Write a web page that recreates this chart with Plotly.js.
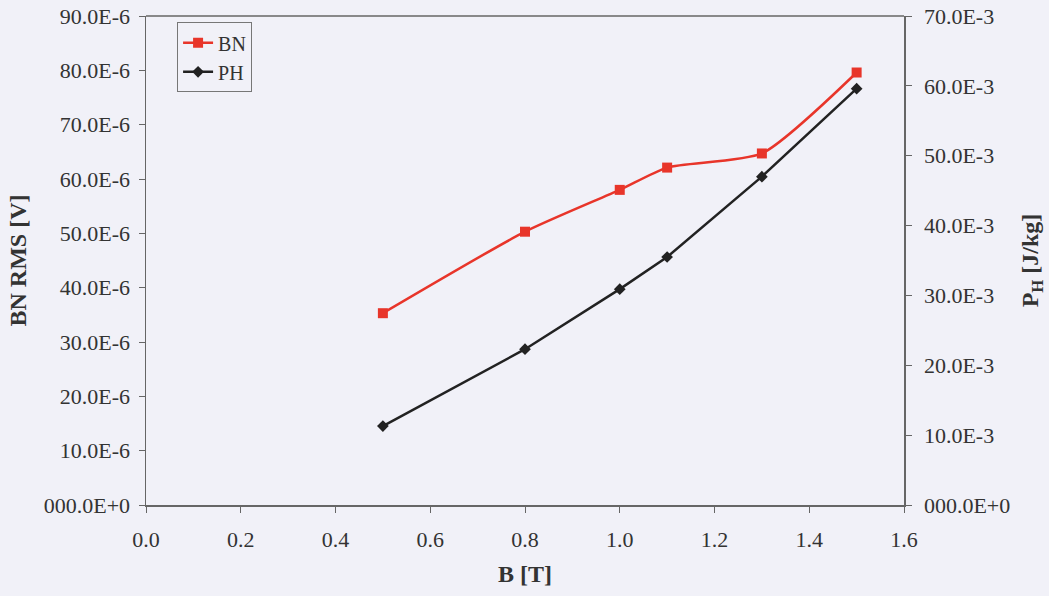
<!DOCTYPE html>
<html>
<head>
<meta charset="utf-8">
<script src="https://cdn.plot.ly/plotly-3.0.1.min.js"></script>
<style>
html,body{margin:0;padding:0;background:#f1f1f8;}
#chart{width:1049px;height:596px;}
</style>
</head>
<body>
<div id="chart"></div>
<script>
const B = [0.5, 0.8, 1.0, 1.1, 1.3, 1.5];
const BN = [35.3e-6, 50.3e-6, 58.0e-6, 62.1e-6, 64.7e-6, 79.6e-6];
const PH = [11.3e-3, 22.3e-3, 30.9e-3, 35.5e-3, 47.0e-3, 59.6e-3];

const xTicks = [0, 0.2, 0.4, 0.6, 0.8, 1.0, 1.2, 1.4, 1.6];
const xTickText = ["0.0", "0.2", "0.4", "0.6", "0.8", "1.0", "1.2", "1.4", "1.6"];
const y1Ticks = [0, 10e-6, 20e-6, 30e-6, 40e-6, 50e-6, 60e-6, 70e-6, 80e-6, 90e-6];
const y1TickText = ["000.0E+0", "10.0E-6", "20.0E-6", "30.0E-6", "40.0E-6", "50.0E-6", "60.0E-6", "70.0E-6", "80.0E-6", "90.0E-6"];
const y2Ticks = [0, 10e-3, 20e-3, 30e-3, 40e-3, 50e-3, 60e-3, 70e-3];
const y2TickText = ["000.0E+0", "10.0E-3", "20.0E-3", "30.0E-3", "40.0E-3", "50.0E-3", "60.0E-3", "70.0E-3"];

const fam = "Liberation Serif, Times New Roman, serif";
const txtCol = "#333";
const tickFont = {family: fam, size: 22, color: txtCol};
const titleFont = {family: fam, size: 24, color: txtCol};
const axisCol = "#666";

const traces = [
  {x: B, y: BN, name: "BN", type: "scatter", mode: "lines+markers",
   line: {color: "#e8352a", width: 2.5, shape: "spline", smoothing: 0.6},
   marker: {symbol: "square", size: 10, color: "#e8352a"}, yaxis: "y"},
  {x: B, y: PH, name: "PH", type: "scatter", mode: "lines+markers",
   line: {color: "#222", width: 2.5},
   marker: {symbol: "diamond", size: 9, color: "#222"}, yaxis: "y2"}
];

const layout = {
  width: 1049, height: 596,
  paper_bgcolor: "#f1f1f8", plot_bgcolor: "#f1f1f8",
  margin: {l: 146, r: 145, t: 16, b: 91},
  font: {family: fam, size: 22, color: txtCol},
  showlegend: true,
  legend: {x: 0.041, y: 0.987, xanchor: "left", yanchor: "top",
           bgcolor: "rgba(0,0,0,0)", bordercolor: "#777", borderwidth: 1,
           font: {family: fam, size: 20, color: txtCol},
           tracegroupgap: 0, itemwidth: 30},
  xaxis: {range: [0, 1.6], tickvals: xTicks, ticktext: xTickText,
          showgrid: false, zeroline: false, showline: true, linecolor: axisCol, linewidth: 1.5,
          ticks: "outside", ticklen: 6, tickcolor: axisCol, ticklabelstandoff: 8,
          tickfont: tickFont,
          title: {text: "<b>B [T]</b>", font: titleFont, standoff: 14}},
  yaxis: {range: [0, 90e-6], tickvals: y1Ticks, ticktext: y1TickText,
          showgrid: false, zeroline: false, showline: true, linecolor: axisCol, linewidth: 1.5,
          ticks: "outside", ticklen: 6, tickcolor: axisCol, ticklabelstandoff: 4,
          tickfont: tickFont,
          title: {text: "<b>BN RMS [V]</b>", font: titleFont, standoff: 10}},
  yaxis2: {range: [0, 70e-3], tickvals: y2Ticks, ticktext: y2TickText, overlaying: "y", side: "right",
          showgrid: false, zeroline: false, showline: true, linecolor: axisCol, linewidth: 1.5,
          ticks: "outside", ticklen: 6, tickcolor: axisCol, ticklabelstandoff: 8,
          tickfont: tickFont,
          title: {text: "<b>P<sub>H</sub> [J/kg]</b>", font: titleFont, standoff: 12}},
  shapes: [{type: "line", xref: "paper", yref: "paper", x0: 0, x1: 1, y0: 1, y1: 1,
            line: {color: axisCol, width: 1.5}}]
};

Plotly.newPlot("chart", traces, layout, {displayModeBar: false, staticPlot: true});
</script>
</body>
</html>
